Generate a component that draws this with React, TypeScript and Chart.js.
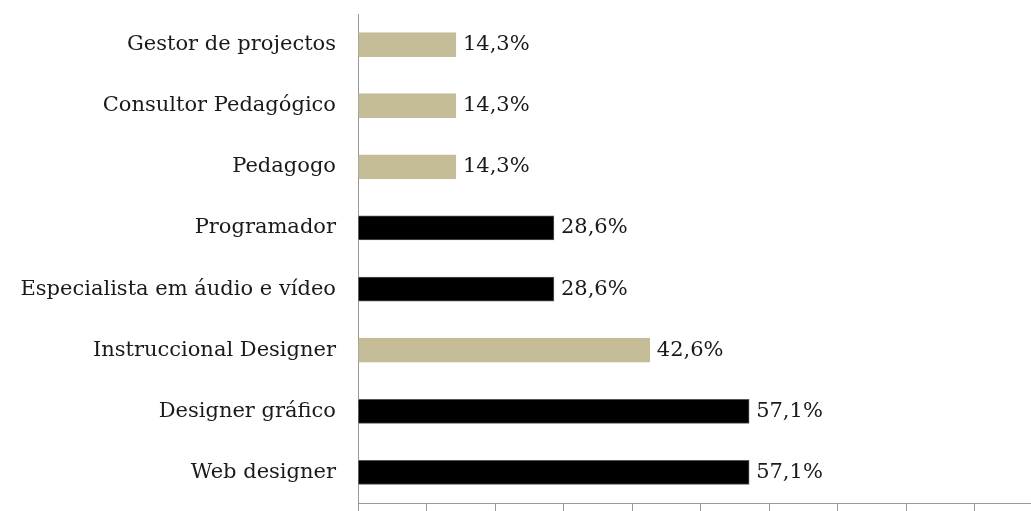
import React, { useEffect, useRef } from "react";
import { Chart, registerables } from "chart.js";

Chart.register(...registerables);

const categories = [
  "Gestor de projectos",
  "Consultor Pedagógico",
  "Pedagogo",
  "Programador",
  "Especialista em áudio e vídeo",
  "Instruccional Designer",
  "Designer gráfico",
  "Web designer",
];
const values = [14.3, 14.3, 14.3, 28.6, 28.6, 42.6, 57.1, 57.1];
const barColors = ["#C4BD97", "#C4BD97", "#C4BD97", "#000000", "#000000", "#C4BD97", "#000000", "#000000"];
const borderColors = ["#C4BD97", "#C4BD97", "#C4BD97", "#555555", "#555555", "#C4BD97", "#555555", "#555555"];

const FONT = "'DejaVu Serif', 'Liberation Serif', serif";
const CW = 1060;
const CH = 540;

const valueLabels = {
  id: "valueLabels",
  afterDatasetsDraw(chart: any) {
    const ctx = chart.ctx;
    const meta = chart.getDatasetMeta(0);
    ctx.save();
    ctx.font = `21px ${FONT}`;
    ctx.fillStyle = "#1a1a1a";
    ctx.textAlign = "left";
    ctx.textBaseline = "middle";
    meta.data.forEach((bar: any, i: number) => {
      const txt = values[i].toFixed(1).replace(".", ",") + "%";
      ctx.fillText(txt, bar.x + 7, bar.y);
    });
    ctx.restore();
  },
};

export default function App() {
  const ref = useRef<HTMLCanvasElement>(null);
  useEffect(() => {
    const chart = new Chart(ref.current!, {
      type: "bar",
      data: {
        labels: categories,
        datasets: [
          {
            data: values,
            backgroundColor: barColors,
            borderColor: borderColors,
            borderWidth: 1,
            barThickness: 24,
          },
        ],
      },
      options: {
        indexAxis: "y",
        animation: false,
        responsive: false,
        layout: { padding: { top: 14, right: 17, left: 0, bottom: 0 } },
        plugins: { legend: { display: false }, tooltip: { enabled: false } },
        scales: {
          x: {
            min: 0,
            max: 100,
            ticks: { display: false, stepSize: 10 },
            grid: { drawOnChartArea: false, drawTicks: true, tickLength: 10, color: "#999" },
            border: { color: "#999", width: 1 },
            afterFit(scale: any) {
              scale.height = CH - 503;
              scale.paddingLeft = 0;
              scale.paddingRight = 0;
            },
          },
          y: {
            ticks: { color: "#1a1a1a", font: { family: FONT, size: 21 }, padding: 22 },
            grid: { display: false, drawTicks: false },
            border: { color: "#999", width: 1 },
            afterFit(scale: any) {
              scale.width = 358;
              scale.paddingTop = 0;
              scale.paddingBottom = 0;
            },
          },
        },
      },
      plugins: [valueLabels],
    } as any);
    return () => chart.destroy();
  }, []);
  return (
    <div style={{ position: "fixed", left: 0, top: 0, width: 1031, height: 511, overflow: "hidden", background: "#fff" }}>
      <canvas ref={ref} width={CW} height={CH} style={{ display: "block", width: CW, height: CH }} />
    </div>
  );
}
